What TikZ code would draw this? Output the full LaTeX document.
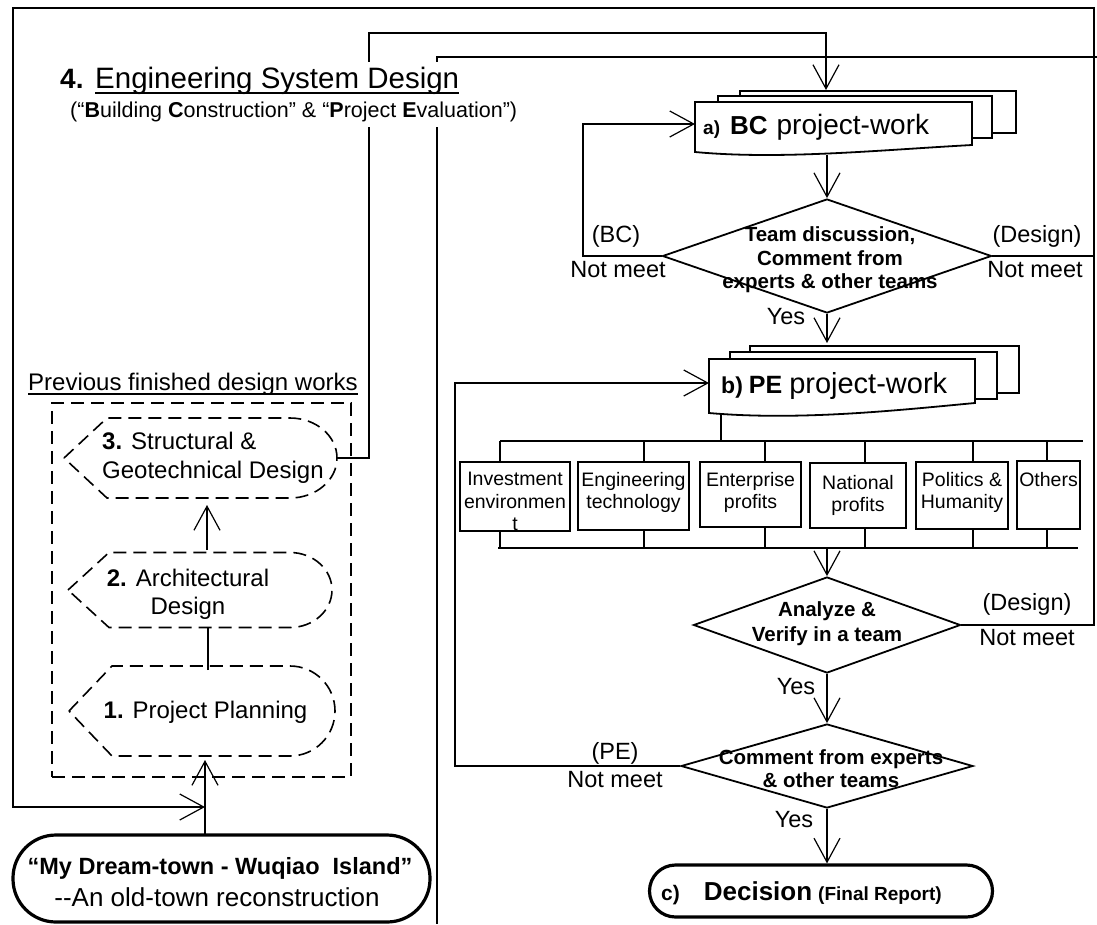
\documentclass[tikz,border=0pt]{standalone}
\usepackage{fontspec}
\setmainfont{Liberation Sans}
\usetikzlibrary{arrows.meta,shapes.geometric}
\newcommand\fsz[2]{\fontsize{#1pt}{#2pt}\selectfont}
\begin{document}
\begin{tikzpicture}[x=1pt,y=-1pt,
  conn/.style={line width=1.2pt},
  arr/.style={line width=1.2pt,-{Straight Barb[length=24pt,width=26pt]}},
  thk/.style={line width=2.6pt},
  dia/.style={diamond,draw,line width=1.8pt,inner sep=0pt},
  pbox/.style={draw,line width=1.8pt,inner sep=0pt},
  doc/.style={draw,line width=1.8pt,fill=white},
  dsh/.style={draw,line width=1.6pt,dash pattern=on 13pt off 7pt},
  ovl/.style={draw,line width=3.2pt,inner sep=0pt},
  tx/.style={inner sep=0pt,align=center},
  lab/.style={inner sep=0pt,font=\fsz{23.5}{27}},
  dtx/.style={inner sep=0pt,align=center,font=\fsz{20.5}{23.5}\bfseries},
  btx/.style={inner sep=0pt,align=center,anchor=north,font=\fsz{19.5}{22.5}},
]
\useasboundingbox (0,0) rectangle (1097,924);

% ---------- key coordinates
\coordinate (TL) at (13,8);
\coordinate (TR) at (1094,8);
\coordinate (BL) at (13,807);
\coordinate (FR) at (1097,57);
\coordinate (FC) at (437,57);
\coordinate (FB) at (437,924);
\coordinate (k1) at (369,33);
\coordinate (k2) at (583,124);
\coordinate (k3) at (455,383);
\coordinate (n3e) at (337,458);
\coordinate (n3s) at (207,505);
\coordinate (n2n) at (207,550);
\coordinate (n2s) at (208,628);
\coordinate (n1n) at (208,670);
\coordinate (n1s) at (205,760);
\coordinate (dreamtop) at (205,835);
\coordinate (bcin) at (695,124);
\coordinate (bctop) at (826,90);
\coordinate (bcbot) at (827,155);
\coordinate (pein) at (709,383);
\coordinate (petop) at (827,343);
\coordinate (pebot) at (721,414);
\coordinate (bus1L) at (500,441);
\coordinate (bus1R) at (1083,441);
\coordinate (bus2L) at (498,548);
\coordinate (bus2R) at (1078,548);

% ---------- frame lines
\draw[thk] (FR) -- (FC) -- (FB);

% ---------- left column: previous works
\node[dsh,minimum width=299pt,minimum height=374pt,inner sep=0pt] (prevbox) at (201.5,590) {};
\draw[dsh] (64,458) -- (107,418) -- (290,418) arc[start angle=-90,end angle=90,x radius=47,y radius=40] -- (107,498) -- cycle;
\draw[dsh] (68,590) -- (109,552.5) -- (290,552.5) arc[start angle=-90,end angle=90,x radius=42,y radius=37.5] -- (109,627.5) -- cycle;
\draw[dsh] (69,711) -- (112,666) -- (290,666) arc[start angle=-90,end angle=90,x radius=45,y radius=45] -- (112,756) -- cycle;
\node[tx,anchor=west,align=left,font=\fsz{24}{29}] (n3) at (102,457.5) {\textbf{3.} Structural \&\\Geotechnical Design};
\node[tx,font=\fsz{24}{28}] (n2) at (188,594) {\textbf{2.} Architectural\\Design};
\node[tx,font=\fsz{24}{28}] (n1) at (205.5,712) {\textbf{1.} Project Planning};
\node[tx,anchor=base west,font=\fsz{24}{28}] (prev) at (28,390) {Previous finished design works};
\draw[line width=1.3pt] ([yshift=-4pt]prev.base west) -- ([yshift=-4pt]prev.base east);

\node[ovl,minimum width=417pt,minimum height=87pt,rounded corners=43pt] (dream) at (221.5,878.5) {};
\node[tx,font=\fsz{23.5}{27}\bfseries] (dream1) at (220,868) {“My Dream-town - Wuqiao\ \ Island”};
\node[tx,font=\fsz{26}{30}] (dream2) at (217,897) {-{}-An old-town reconstruction};

% ---------- right column shapes
% BC stack
\draw[doc] (740,91) rectangle (1016,133);
\draw[doc] (718,96) rectangle (992,138);
\draw[doc] (695,102) -- (972,102) -- (972,145) .. controls (880,150) and (780,160) .. (695,152) -- cycle;
\node[inner sep=0pt,anchor=base west] (bct) at (703,134) {{\fsz{19}{22}\bfseries a)}\hspace{10pt}{\fsz{26}{30}\bfseries BC}\hspace{9pt}{\fsz{28}{32}project-work}};

\node[dia,minimum width=329pt,minimum height=114pt] (d1) at (827,256) {};
\node[dtx] (d1t) at (830,260) {Team discussion,\\Comment from\\experts \& other teams};

% PE stack
\draw[doc] (750,346) rectangle (1019,393);
\draw[doc] (730,352) rectangle (997,399);
\draw[doc] (709,359) -- (975,359) -- (975,403) .. controls (900,410) and (800,421) .. (709,413) -- cycle;
\node[inner sep=0pt,anchor=base west] (pet) at (721,393) {{\fsz{23}{26}\bfseries b)}\hspace{6pt}{\fsz{25}{28}\bfseries PE}\hspace{7pt}{\fsz{29}{32}project-work}};

% evaluation boxes
\node[pbox,minimum width=110pt,minimum height=69pt] (b1) at (515,496.5) {};
\node[pbox,minimum width=111pt,minimum height=68pt] (b2) at (633.5,496) {};
\node[pbox,minimum width=101pt,minimum height=65pt] (b3) at (750.5,494.5) {};
\node[pbox,minimum width=96pt,minimum height=65pt] (b4) at (858,495.5) {};
\node[pbox,minimum width=92pt,minimum height=67pt] (b5) at (962,495.5) {};
\node[pbox,minimum width=63pt,minimum height=68pt] (b6) at (1048.5,495) {};
\node[btx] (t1) at (515,472) {Investment\\environmen\\t};
\node[btx] (t2) at (633.5,472) {Engineering\\technology};
\node[btx] (t3) at (750.5,472) {Enterprise\\profits};
\node[btx] (t4) at (858,475) {National\\profits};
\node[btx] (t5) at (962,472) {Politics \&\\Humanity};
\node[btx] (t6) at (1048.5,472) {Others};

\draw[conn] (pebot) -- (pebot |- bus1L);
\draw[conn] (bus1L) -- (bus1R);
\draw[conn] (bus2L) -- (bus2R);
\foreach \b/\dx in {b1/-15,b2/10.5,b3/14.5,b4/7,b5/11,b6/-1.5}{
  \draw[conn] ([xshift=\dx pt]\b.north) -- ([xshift=\dx pt]\b.north |- bus1L);
  \draw[conn] ([xshift=\dx pt]\b.south) -- ([xshift=\dx pt]\b.south |- bus2L);
}

\node[dia,minimum width=267pt,minimum height=96pt] (d2) at (827,625) {};
\node[dtx,font=\fsz{20.5}{25}\bfseries] (d2t) at (827,624) {Analyze \&\\Verify in a team};

\node[dia,minimum width=292pt,minimum height=84pt] (d3) at (827,766) {};
\node[dtx,font=\fsz{20.5}{23}\bfseries] (d3t) at (831,769) {Comment from experts\\\& other teams};

\node[ovl,minimum width=343pt,minimum height=52pt,rounded corners=26pt] (dec) at (821,891) {};
\node[inner sep=0pt,anchor=base west] (dect) at (661,900) {{\fsz{21}{24}\bfseries c)}\hspace{24pt}{\fsz{26}{30}\bfseries Decision}\hspace{6pt}{\fsz{19}{22}\bfseries (Final Report)}};

% ---------- labels
\node[lab] (l1) at (616,236) {(BC)};
\node[lab] (l2) at (618,270) {Not meet};
\node[lab] (l3) at (1037,236) {(Design)};
\node[lab] (l4) at (1035,270) {Not meet};
\node[lab] (l5) at (786,317) {Yes};
\node[lab] (l6) at (1027,604) {(Design)};
\node[lab] (l7) at (1027,638) {Not meet};
\node[lab] (l8) at (796,687) {Yes};
\node[lab] (l9) at (615,753) {(PE)};
\node[lab] (l10) at (615,780) {Not meet};
\node[lab] (l11) at (794,820) {Yes};

% ---------- connectors
\draw[arr] (n3e) -| (k1) -| (bctop);
\draw[arr] (d1.west) -| (k2) -- (bcin);
\draw[arr] (d3.west) -| (k3) -- (pein);
\draw[conn] (d1.east) -- (d1.east -| TR);
\draw[arr] (d2.east) -- (d2.east -| TR) -- (TR) -- (TL) -- (BL) -- (BL -| n1s);
\draw[arr] (dreamtop) -- (n1s);
\draw[arr] (n2n) -- (n3s);
\draw[conn] (n1n) -- (n2s);
\draw[arr] (bcbot) -- (d1.north);
\draw[arr] (d1.south) -- (petop);
\draw[arr] (d2.north |- bus2L) -- (d2.north);
\draw[arr] (d2.south) -- (d3.north);
\draw[arr] (d3.south) -- (d3.south |- dec.north);

% ---------- title
\node[anchor=base west,inner sep=0pt,fill=white] (t4num) at (60,88) {\fsz{28}{32}\bfseries 4.};
\node[anchor=base west,inner xsep=0pt,inner ysep=5pt,fill=white] (ttl) at (95,88) {\fsz{29.5}{33}Engineering System Design};
\draw[line width=1.4pt] ([yshift=-5pt]ttl.base west) -- ([yshift=-5pt]ttl.base east);
\node[anchor=base west,inner xsep=0pt,inner ysep=6pt,fill=white] (sub) at (70,117) {\fsz{21.5}{24}(“\textbf{B}uilding \textbf{C}onstruction” \& “\textbf{P}roject \textbf{E}valuation”)};
\end{tikzpicture}
\end{document}
